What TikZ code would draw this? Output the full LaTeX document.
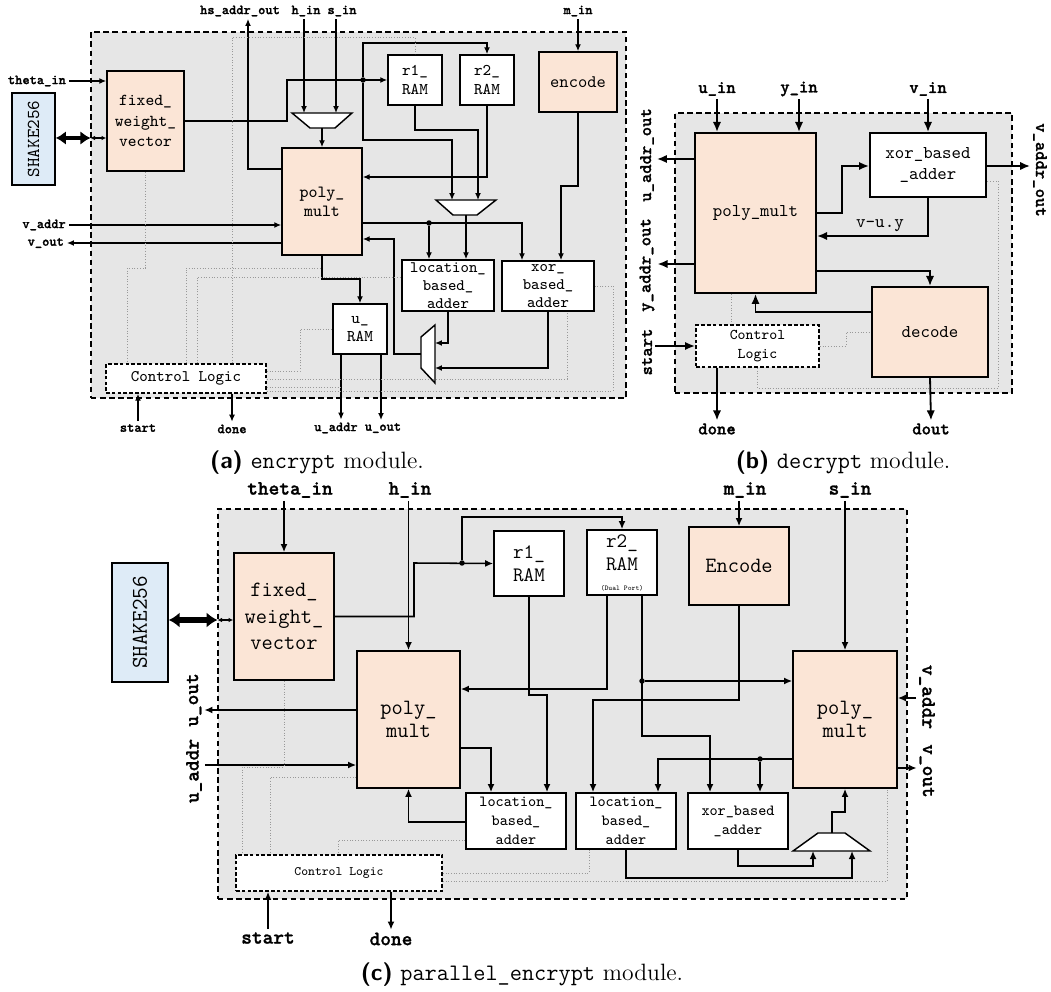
\documentclass[tikz,border=0pt]{standalone}
\usepackage{fontspec}
\usepackage{tikz}
\usetikzlibrary{positioning, arrows.meta}
\newfontfamily\sigtt{lmmonolt10-bold.otf}[FakeBold=1.2]
\definecolor{BlockPeach}{RGB}{251,229,214}
\definecolor{ShakeBlue}{RGB}{222,235,247}
\definecolor{FrameGray}{RGB}{230,230,230}
\newcommand{\fsz}[2]{\fontsize{#1}{#2}\selectfont}
\tikzset{
  px/.style 2 args={minimum width=#1*0.55pt, minimum height=#2*0.55pt},
  modframe/.style={draw, line width=0.6pt, dash pattern=on 3pt off 2pt, fill=FrameGray, inner sep=0pt},
  blk/.style={draw, line width=0.9pt, inner sep=0pt, align=center},
  hotblk/.style={blk, fill=BlockPeach},
  ramblk/.style={blk, fill=white},
  shakeblk/.style={blk, fill=ShakeBlue},
  ctrlblk/.style={blk, fill=white, dash pattern=on 2pt off 1.2pt},
  mux/.style={draw, line width=0.8pt, fill=white},
  dot/.style={circle, fill, inner sep=0pt, minimum size=3pt},
  ctl/.style={draw=gray!80, densely dotted, line width=0.5pt},
  sig/.style={inner sep=1.5pt},
  sa/.style={sig, font=\sigtt\fsz{7.6}{9}},
  sb/.style={sig, font=\sigtt\fsz{9.8}{11}},
  sc/.style={sig, font=\sigtt\fsz{11.2}{13}},
  caption/.style={font=\fsz{13}{15}, inner sep=0pt},
  wa/.style={line width=0.65pt, -{Latex[length=3.8pt,width=3.2pt]}},
  wb/.style={line width=1pt, -{Latex[length=5.5pt,width=4.6pt]}},
  wc/.style={line width=0.85pt, -{Latex[length=4.4pt,width=3.8pt]}},
  busa/.style={line width=2.6pt, {Latex[length=5.5pt,width=7.5pt]}-{Latex[length=5.5pt,width=7.5pt]}},
  busc/.style={line width=3pt, {Latex[length=6pt,width=8.5pt]}-{Latex[length=6pt,width=8.5pt]}},
  tapa/.style={line width=0.6pt, {Latex[length=2.5pt,width=2.5pt]}-{Latex[length=2.5pt,width=2.5pt]}},
}

\begin{document}
\begin{tikzpicture}[x=0.55pt, y=-0.55pt]
\useasboundingbox (0,0) rectangle (1051,992);

% (a) encrypt
\node[modframe, px={535}{366}] (frA) at (358.5,215) {};
\node[shakeblk, px={43}{92}, font=\ttfamily\fsz{10}{12}] (shA) at (33.5,139) {\rotatebox{90}{SHAKE256}};
\node[hotblk, px={77}{100}, font=\ttfamily\fsz{9.2}{11.3}] (fwA) at (145.5,121) {fixed\_\\weight\_\\vector};
\node[hotblk, px={80}{107}, font=\ttfamily\fsz{9.4}{10.5}] (pmA) at (322,201.5) {poly\_\\mult};
\node[ramblk, px={54}{50}, font=\ttfamily\fsz{9}{10}] (r1A) at (415,80) {r1\_\\RAM};
\node[ramblk, px={54}{50}, font=\ttfamily\fsz{9}{10}] (r2A) at (487,80) {r2\_\\RAM};
\node[hotblk, px={78}{60}, font=\ttfamily\fsz{9.7}{11}] (enA) at (578,82) {encode};
\node[ramblk, px={92}{51}, font=\ttfamily\fsz{8.8}{10}] (laA) at (448,285.5) {location\_\\based\_\\adder};
\node[ramblk, px={92}{50}, font=\ttfamily\fsz{8.8}{10}] (xaA) at (548,286) {xor\_\\based\_\\adder};
\node[ramblk, px={54}{50}, font=\ttfamily\fsz{9}{10}] (urA) at (360,329) {u\_\\RAM};
\node[ctrlblk, px={160}{29}, font=\ttfamily\fsz{8.9}{10}] (clA) at (186,378.5) {Control Logic};
\draw[mux] (292,113) -- (352,113) -- (335,128) -- (310,128) -- cycle;
\draw[mux] (436,200) -- (496,200) -- (477,215) -- (453,215) -- cycle;
\draw[mux] (435,325) -- (435,383) -- (421,368) -- (421,337) -- cycle;
\coordinate (mxA1) at (322,128);
\coordinate (mxA2) at (466,215);
\coordinate (mxA3) at (421,354);
\node[dot] (jA1) at (363,80) {};
\node[dot] (jA2) at (429,223) {};

\node[sa, anchor=east] (thA) at (69,81) {theta\_in};
\node[sa] (hsA) at (240,11) {hs\_addr\_out};
\node[sa] (hiA) at (306,11) {h\_in};
\node[sa] (siA) at (342,11) {s\_in};
\node[sa] (miA) at (578,11) {m\_in};
\node[sa, anchor=east] (vaA) at (69,225) {v\_addr};
\node[sa, anchor=east] (voA) at (67,243) {v\_out};
\node[sa] (stA) at (138,428) {start};
\node[sa] (dnA) at (232,429) {done};
\node[sa] (uaA) at (336,428) {u\_addr};
\node[sa] (uoA) at (383,428) {u\_out};

\draw[busa] (shA.east |- 0,138) -- (frA.west |- 0,138);
\draw[tapa] (frA.west |- 0,138) -- (fwA.west |- 0,138);
\draw[wa] (thA.east) -- (fwA.west |- thA.east);
\draw[wa] (fwA.east) -- (287,121) |- (r1A.west);
\draw[wa] (jA1) |- (r2A.north |- 0,43) -- (r2A.north);
\draw[wa] (jA1) |- (452,140) -- (452,200);
\draw[wa] (r1A.south) |- (478,130) -- (478,200);
\draw[wa] (r2A.south) |- (pmA.east |- 0,177);
\draw[wa] (hiA.south -| 304,0) -- (304,113);
\draw[wa] (siA.south -| 336,0) -- (336,113);
\draw[wa] (mxA1) -- (pmA.north);
\draw[wa] (pmA.west |- 0,169) -| (248,19);
\draw[wa] (miA.south) -- (enA.north);
\draw[wa] (vaA.east) -- (pmA.west |- vaA.east);
\draw[wa] (pmA.west |- voA.east) -- (voA.east);
\draw[wa] (pmA.south) |- (urA.north |- 0,279) -- (urA.north);
\draw[wa] (pmA.east |- 0,223) -| (522,0 |- xaA.north);
\draw[wa] (jA2) -- (jA2 |- laA.north);
\draw[wa] (mxA2) -- (mxA2 |- laA.north);
\draw[wa] (enA.south) |- (561,186) -- (561,0 |- xaA.north);
\draw[wa] (laA.south) |- (435,343);
\draw[wa] (xaA.south) |- (435,368);
\draw[wa] (mxA3) -| (394,239) -- (pmA.east |- 0,239);
\draw[wa] (341,0 |- urA.south) -- (uaA.north -| 341,0);
\draw[wa] (381,0 |- urA.south) -- (uoA.north -| 381,0);
\draw[wa] (stA.north) -- (stA.north |- clA.south);
\draw[wa] (232,0 |- clA.south) -- (dnA.north);

\draw[ctl] (fwA.south) |- (127,268) -- (127,0 |- clA.north);
\draw[ctl] (clA.north) |- (322,268);
\draw[ctl] (197,0 |- clA.north) |- (laA.west |- 0,277);
\draw[ctl] (232,0 |- clA.north) |- (r1A.north |- 0,37) -- (r1A.north);
\draw[ctl] (clA.east |- 0,371) -| (300,329) -- (urA.west);
\draw[ctl] (clA.east |- 0,379) -| (567,0 |- xaA.south);
\draw[ctl] (clA.east |- 0,387) -- (341,387);
\draw[ctl] (clA.east |- 0,391) -| (613,286) -- (xaA.east);

% (b) decrypt
\node[modframe, px={337}{280}] (frB) at (843.5,253) {};
\node[hotblk, px={121}{160}, line width=1.1pt, font=\ttfamily\fsz{9.9}{11.9}] (pmB) at (755.5,213) {poly\_mult};
\node[ramblk, px={116}{64}, line width=1.1pt, font=\ttfamily\fsz{9.9}{11.9}] (xaB) at (928,165) {xor\_based\\\_adder};
\node[hotblk, px={116}{90}, line width=1.1pt, font=\ttfamily\fsz{9.9}{11.9}] (dcB) at (930,332) {decode};
\node[ctrlblk, px={123}{42}, line width=1.1pt, font=\ttfamily\fsz{8.2}{10}] (clB) at (757.5,346) {Control\\Logic};

\node[sb] (uiB) at (717,89) {u\_in};
\node[sb] (yiB) at (799,89) {y\_in};
\node[sb] (viB) at (928,89) {v\_in};
\node[sb] (uoB) at (647,155) {\rotatebox{90}{u\_addr\_out}};
\node[sb] (yoB) at (647,265) {\rotatebox{90}{y\_addr\_out}};
\node[sb] (stB) at (647,352) {\rotatebox{90}{start}};
\node[sb] (voB) at (1040,170) {\rotatebox{-90}{v\_addr\_out}};
\node[sb] (dnB) at (717,429) {done};
\node[sb] (doB) at (931,429) {dout};
\node[sig, font=\ttfamily\fsz{10}{12}] (vuB) at (880,226) {v-u.y};

\draw[wb] (uiB.south) -- (uiB |- pmB.north);
\draw[wb] (yiB.south) -- (yiB |- pmB.north);
\draw[wb] (viB.south) -- (xaB.north);
\draw[wb] (pmB.west |- 0,159) -- (uoB.east |- 0,159);
\draw[wb] (pmB.west |- 0,264) -- (yoB.east |- 0,264);
\draw[wb] (stB.east |- clB.west) -- (clB.west);
\draw[wb] (xaB.east |- 0,166) -- (voB.west |- 0,166);
\draw[wb] (pmB.east) -| (842,166) -- (xaB.west |- 0,166);
\draw[wb] (xaB.south) |- (pmB.east |- 0,236);
\draw[wb] (pmB.east |- 0,271) -| (dcB.north);
\draw[wb] (dcB.west |- 0,312) -| (pmB.south);
\draw[wb] (717,0 |- clB.south) -- (dnB.north);
\draw[wb] (dcB.south) -- (doB.north);

\draw[ctl] (731,0 |- pmB.south) -- (731,0 |- clB.north);
\draw[ctl] (clB.east) -| (846,332) -- (dcB.west |- 0,332);
\draw[ctl] (clB.south) |- (998,388) |- (xaB.east |- 0,181);

% (c) parallel_encrypt
\node[modframe, px={689}{390}] (frC) at (562.5,704) {};
\node[shakeblk, px={56}{119}, font=\ttfamily\fsz{12.4}{14}] (shC) at (140,622.5) {\rotatebox{90}{SHAKE256}};
\node[hotblk, px={100}{127}, font=\ttfamily\fsz{12}{14.5}] (fwC) at (284,616.5) {fixed\_\\weight\_\\vector};
\node[hotblk, px={103}{137}, font=\ttfamily\fsz{12}{13}] (pmC1) at (408.5,719.5) {poly\_\\mult};
\node[ramblk, px={70}{65}, font=\ttfamily\fsz{11.3}{12.8}] (r1C) at (529,563.5) {r1\_\\RAM};
\node[ramblk, px={70}{65}, font=\ttfamily\fsz{11.3}{12.8}] (r2C) at (622,562.5) {r2\_\\RAM\\[-2pt]{\fsz{4}{5}(Dual Port)}};
\node[hotblk, px={100}{78}, font=\ttfamily\fsz{12}{14}] (enC) at (739,566) {Encode};
\node[hotblk, px={104}{137}, font=\ttfamily\fsz{12}{13}] (pmC2) at (845,719.5) {poly\_\\mult};
\node[ramblk, px={100}{56}, font=\ttfamily\fsz{8.5}{10.4}] (laC1) at (516,821) {location\_\\based\_\\adder};
\node[ramblk, px={100}{56}, font=\ttfamily\fsz{8.5}{10.4}] (laC2) at (626,821) {location\_\\based\_\\adder};
\node[ramblk, px={100}{56}, font=\ttfamily\fsz{8.5}{10.4}] (xaC) at (738,821) {xor\_based\\\_adder};
\node[ctrlblk, px={206}{36}, font=\ttfamily\fsz{7.1}{8.5}] (clC) at (339,873) {Control Logic};
\draw[mux] (793,851) -- (870,851) -- (845,833) -- (818,833) -- cycle;
\coordinate (mxC) at (832,833);
\node[dot] (jC1) at (462,563) {};
\node[dot] (jC2) at (642,681) {};
\node[dot] (jC3) at (760,759) {};

\node[sc] (thC) at (290,490) {theta\_in};
\node[sc] (hiC) at (410,490) {h\_in};
\node[sc] (miC) at (745,490) {m\_in};
\node[sc] (siC) at (850,490) {s\_in};
\node[sc] (uoC) at (194,700) {\rotatebox{90}{u\_out}};
\node[sc] (uaC) at (194,771) {\rotatebox{90}{u\_addr}};
\node[sc] (vaC) at (927,697) {\rotatebox{-90}{v\_addr}};
\node[sc] (voC) at (927,771) {\rotatebox{-90}{v\_out}};
\node[sc] (stC) at (268,938) {start};
\node[sc] (dnC) at (391,939) {done};

\draw[busc] (shC.east |- 0,620) -- (frC.west |- 0,620);
\draw[tapa] (frC.west |- 0,620) -- (fwC.west |- 0,620);
\draw[wc] (fwC.north |- thC.south) -- (fwC.north);
\draw[wc] (pmC1.north |- hiC.south) -- (pmC1.north);
\draw[wc] (enC.north |- miC.south) -- (enC.north);
\draw[wc] (pmC2.north |- siC.south) -- (pmC2.north);
\draw[wc] (fwC.east) -| (414,563) -- (r1C.west);
\draw[wc] (jC1) |- (r2C.north |- 0,517) -- (r2C.north);
\draw[wc] (r1C.south) |- (547,695) -- (547,0 |- laC1.north);
\draw[wc] (607,0 |- r2C.south) |- (pmC1.east |- 0,689);
\draw[wc] (642,0 |- r2C.south) |- (710,736) -- (710,0 |- xaC.north);
\draw[wc] (jC2) -- (pmC2.west |- jC2);
\draw[wc] (enC.south) |- (593,700) -- (593,0 |- laC2.north);
\draw[wc] (pmC2.west |- 0,759) -| (658,0 |- laC2.north);
\draw[wc] (jC3) -- (jC3 |- xaC.north);
\draw[wc] (pmC1.east |- 0,748) -| (491,0 |- laC1.north);
\draw[wc] (laC1.west |- 0,822) -| (pmC1.south);
\draw[wc] (pmC1.west |- 0,710) -- (uoC.east |- 0,710);
\draw[wc] (uaC.east |- 0,765) -- (pmC1.west |- 0,765);
\draw[wc] (vaC.west |- 0,698) -- (pmC2.east |- 0,698);
\draw[wc] (pmC2.east |- 0,768) -- (voC.west |- 0,768);
\draw[wc] (mxC) |- (845,812) -- (pmC2.south);
\draw[wc] (xaC.south) |- (813,866) -- (813,851);
\draw[wc] (laC2.south) |- (852,878) -- (852,851);
\draw[wc] (stC.north) -- (stC.north |- clC.south);
\draw[wc] (391,0 |- clC.south) -- (dnC.north);

\draw[ctl] (fwC.south) |- (242,767) -- (242,0 |- clC.north);
\draw[ctl] (pmC1.west |- 0,777) -| (270,0 |- clC.north);
\draw[ctl] (laC1.west |- 0,840) -| (338,0 |- clC.north);
\draw[ctl] (clC.east |- 0,873) -| (589,0 |- laC2.south);
\draw[ctl] (clC.east |- 0,881) -| (887,0 |- pmC2.south);

\node[caption] (capA) at (317,463) {{\sffamily\bfseries (a)} \texttt{encrypt} module.};
\node[caption] (capB) at (843,463) {{\sffamily\bfseries (b)} \texttt{decrypt} module.};
\node[caption] (capC) at (522,975) {{\sffamily\bfseries (c)} \texttt{parallel\_encrypt} module.};
\end{tikzpicture}
\end{document}
